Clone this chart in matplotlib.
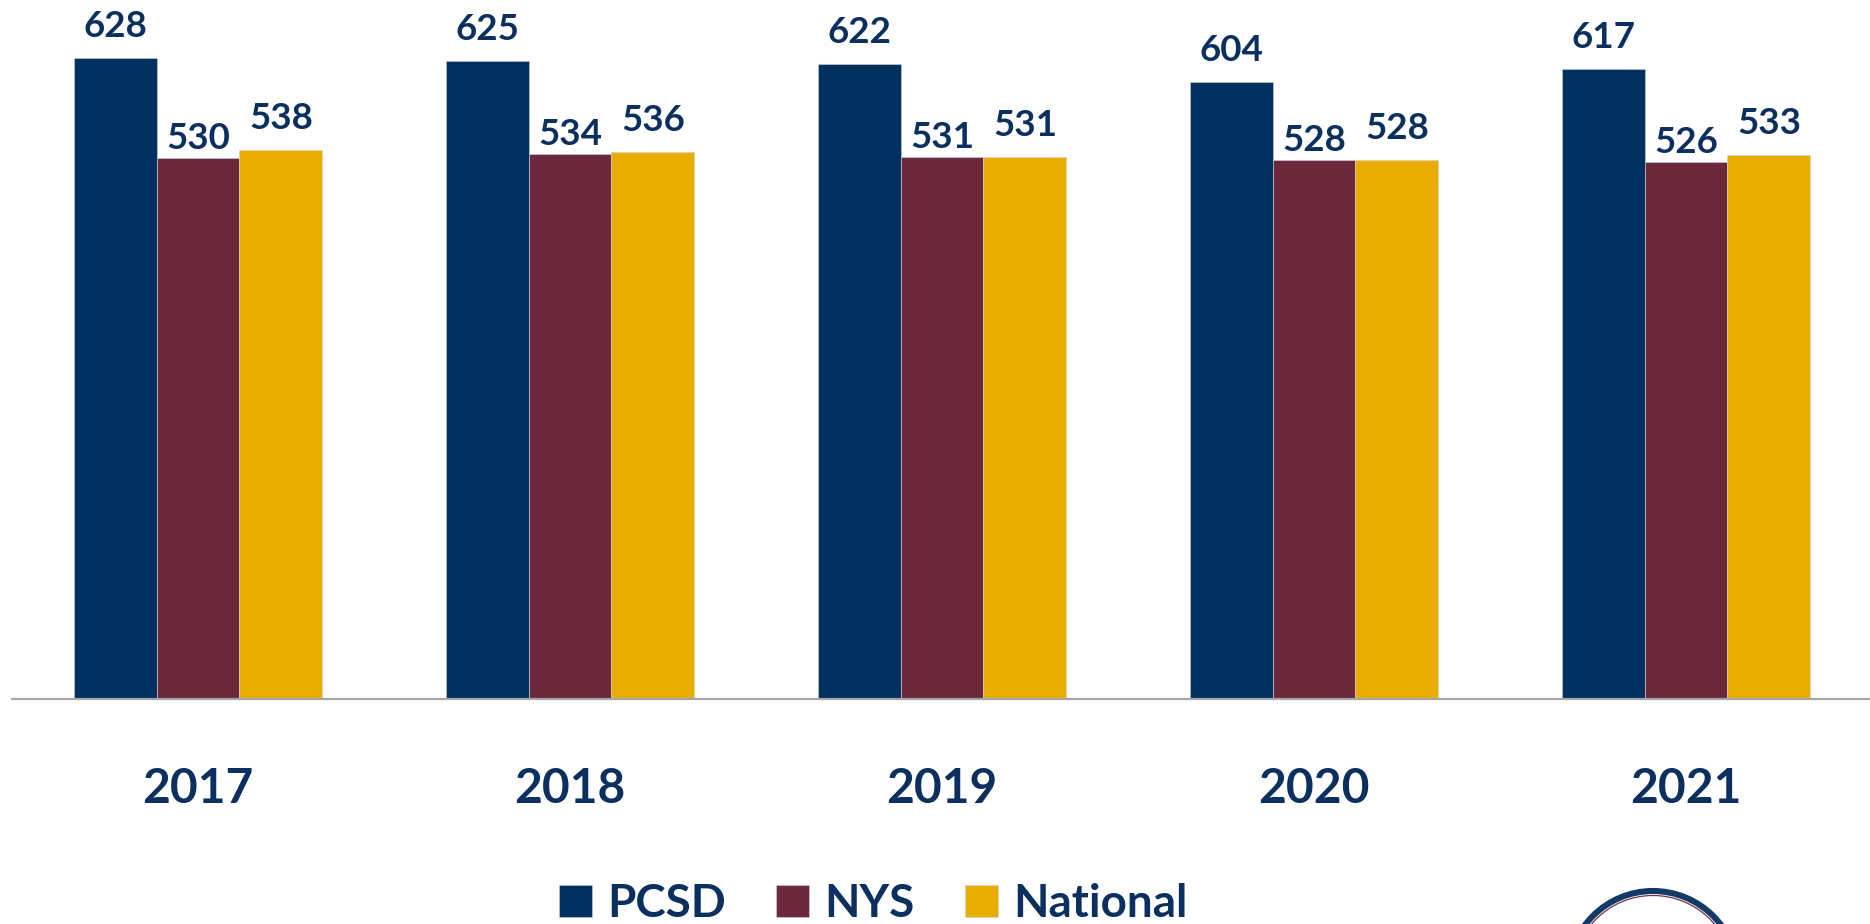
import matplotlib as mpl
mpl.use('Agg')
import matplotlib.pyplot as plt
import numpy as np
from matplotlib.patches import Circle

# --------------------------
# Data
# --------------------------
years = ["2017", "2018", "2019", "2020", "2021"]
pcsd = [628, 625, 622, 604, 617]
nys = [530, 534, 531, 528, 526]
national = [538, 536, 531, 528, 533]

series = [pcsd, nys, national]
names = ["PCSD", "NYS", "National"]
colors = ["#012F5E", "#6C283D", "#E9AD00"]
text_color = "#0B2F5E"
label_gap = [15, 3, 15]   # how far each series' value label sits above the bar

plt.rcParams['font.family'] = ['Lato', 'DejaVu Sans']

fig = plt.figure(figsize=(18.7, 9.24), dpi=100)
ax = fig.add_axes([12/1870, 1 - 699/924, 1860/1870, 699/924])

x = np.arange(len(years))
width = 0.223

handles = []
for i, vals in enumerate(series):
    bars = ax.bar(x + (i - 1) * width, vals, width, color=colors[i],
                  edgecolor='#d0d4dc', linewidth=0.4, label=names[i], zorder=2)
    handles.append(bars)
    for xi, v in zip(x + (i - 1) * width, vals):
        ax.text(xi, v + label_gap[i], str(v), ha='center', va='bottom',
                fontsize=26.5, fontweight='bold', color=text_color)

ax.set_xlim(-0.5, 4.5)
ax.set_ylim(0, 684.8)

for s in ['top', 'right', 'left']:
    ax.spines[s].set_visible(False)
ax.spines['bottom'].set_color('#a6a6a6')
ax.spines['bottom'].set_linewidth(1.6)
ax.set_yticks([])
ax.set_xticks(x)
ax.set_xticklabels(years, fontsize=34.5, fontweight='bold', color=text_color)
ax.tick_params(axis='x', length=0, pad=49)

# Legend
fig.legend(handles=handles, labels=names, loc='center',
           bbox_to_anchor=(873/1870, 1 - 904/924), ncol=3, frameon=False,
           prop={'size': 33, 'weight': 'bold'}, labelcolor=text_color,
           handlelength=0.72, handleheight=0.72, handletextpad=0.33,
           columnspacing=1.1, borderaxespad=0, borderpad=0)

# Logo rings in bottom right corner (partially visible)
lax = fig.add_axes([0, 0, 1, 1])
lax.set_xlim(0, 1870)
lax.set_ylim(924, 0)
lax.axis('off')
lax.add_patch(Circle((1653, 976), 85, fill=False, edgecolor='#123A66', linewidth=4.4))
lax.add_patch(Circle((1653, 976), 80.5, fill=False, edgecolor='#7A2D45', linewidth=0.9))

plt.savefig("out.png", dpi=100)
plt.close()
